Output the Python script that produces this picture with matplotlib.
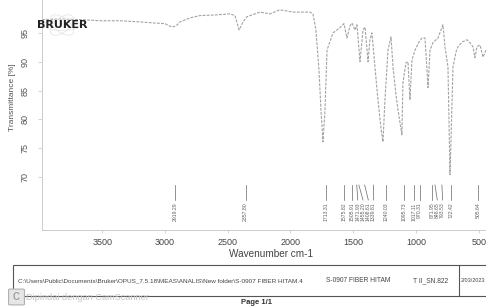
import matplotlib
matplotlib.use('Agg')
import matplotlib.pyplot as plt
from matplotlib.patches import Rectangle, FancyBboxPatch, Ellipse
from matplotlib.lines import Line2D

plt.rcParams['font.family'] = ['Liberation Sans', 'DejaVu Sans']

# ---- data ----
wavenumber = [3980, 3837, 3677, 3518, 3358, 3199, 3080, 3000, 2944, 2912, 2880, 2801,
              2721, 2602, 2482, 2442, 2410, 2378, 2347, 2243, 2163, 2084, 1980, 1845,
              1821, 1797, 1773, 1757, 1741, 1725, 1709, 1661, 1606, 1574, 1550, 1526,
              1510, 1486, 1470, 1446, 1422, 1406, 1382, 1367, 1351, 1327, 1303, 1279,
              1263, 1247, 1223, 1199, 1183, 1159, 1143, 1112, 1104, 1080, 1064, 1048,
              1032, 1008, 976, 952, 928, 904, 888, 865, 825, 785, 769, 745, 729, 721,
              705, 681, 665, 633, 594, 570, 546, 530, 514, 490, 466, 442]
transmittance = [97.3, 97.4, 97.3, 97.1, 97.1, 96.9, 96.7, 96.6, 96.0, 96.2, 96.9, 97.6,
                 98.0, 98.1, 98.3, 98.0, 95.5, 96.9, 97.8, 98.6, 98.3, 99.0, 98.6, 98.6,
                 98.3, 95.5, 88.6, 81.6, 76.1, 81.6, 92.0, 95.0, 95.9, 96.6, 94.1, 96.2,
                 96.7, 95.5, 96.4, 90.0, 95.5, 96.0, 90.0, 93.8, 95.0, 89.1, 83.4, 78.5,
                 76.1, 83.4, 92.0, 94.3, 89.1, 84.2, 81.6, 77.3, 86.3, 89.8, 90.0, 83.4,
                 90.3, 92.0, 93.4, 94.1, 94.1, 85.5, 92.0, 93.3, 94.1, 96.4, 92.6, 89.1,
                 70.4, 76.4, 89.1, 91.7, 92.6, 93.4, 93.8, 93.3, 92.6, 90.7, 92.6, 92.9,
                 90.8, 92.0]
peak_positions = [2919.29, 2357.80, 1713.31, 1575.82, 1505.91, 1471.93, 1455.20, 1408.61,
                  1339.81, 1240.03, 1095.73, 1017.11, 970.31, 871.95, 848.65, 793.53,
                  722.42, 505.64]
x_ticks = [3500, 3000, 2500, 2000, 1500, 1000, 500]
y_ticks = [70, 75, 80, 85, 90, 95]

W, H = 486, 307
fig = plt.figure(figsize=(W / 100, H / 100), dpi=100)
ax = fig.add_axes([42 / W, (H - 230) / H, 1 - 42 / W, 230 / H])
ax.patch.set_alpha(0)

ax.plot(wavenumber, transmittance, color='#a2a2a2', lw=0.8, ls=(0, (2.5, 1.2)))
ax.set_xlim(3980, 442)
ax.set_ylim(60.8, 100.7)

for s in ['top', 'right']:
    ax.spines[s].set_visible(False)
for s in ['left', 'bottom']:
    ax.spines[s].set_color('#c4c4c4')
    ax.spines[s].set_linewidth(0.6)
ax.set_xticks(x_ticks)
ax.set_yticks(y_ticks)
ax.tick_params(axis='x', length=2.5, width=0.5, pad=3, labelsize=6.5,
               colors='#c4c4c4', labelcolor='#444444')
ax.tick_params(axis='y', length=3, width=0.5, pad=6, labelsize=6.5,
               colors='#c4c4c4', labelcolor='#555555', labelrotation=90)
for lab in ax.get_yticklabels():
    lab.set_va('center')

# peak labels (spread like OPUS does)
prev = None
for p in sorted(peak_positions, reverse=True):
    lp = p if prev is None else min(p, prev - 42)
    prev = lp
    ax.plot([p, lp], [68.6, 66.0], color='#666666', lw=0.5, clip_on=False)
    ax.text(lp, 65.6, f'{p:.2f}', rotation=90, ha='center', va='top',
            fontsize=3.7, color='#606060', clip_on=False)

# axis labels
fig.text(13 / W, 1 - 97 / H, 'Transmittance [%]', rotation=90, ha='center',
         va='center', fontsize=6, color='#555555')
fig.text(271 / W, 1 - 254 / H, 'Wavenumber cm-1', ha='center', va='center',
         fontsize=7.2, color='#444444')

# logo
for ang in (0, 60, 120):
    fig.add_artist(Ellipse((62 / W, 1 - 25 / H), 36 / W, 11 / H, angle=ang,
                           transform=fig.transFigure, fill=False, ec='#e2e2e2', lw=0.5))
fig.text(37 / W, 1 - 25 / H, 'BRUKER', fontsize=8, fontweight='bold',
         family='DejaVu Sans', ha='left', va='center', color='#222222')

# footer table
fig.add_artist(Rectangle((13 / W, 11 / H), 1.0, 31 / H, transform=fig.transFigure,
                         fill=False, ec='#555555', lw=0.8))
fig.add_artist(Line2D([459 / W, 459 / W], [11 / H, 42 / H], transform=fig.transFigure,
                      color='#555555', lw=0.8))
ty = 26 / H
fig.text(18 / W, ty, r'C:\Users\Public\Documents\Bruker\OPUS_7.5.18\MEAS\ANALIS\New folder\S-0907 FIBER HITAM.4',
         fontsize=4.6, color='#444444', va='center', ha='left')
fig.text(326 / W, ty, 'S-0907 FIBER HITAM', fontsize=4.8, color='#444444', va='center', ha='left')
fig.text(413 / W, ty, 'T II_SN.822', fontsize=4.8, color='#444444', va='center', ha='left')
fig.text(460.5 / W, ty, '2/03/2023', fontsize=4, color='#444444', va='center', ha='left')
fig.text(241 / W, 1 - 303 / H, 'Page 1/1', fontsize=5.5, fontweight='bold',
         color='#333333', va='center', ha='left')

# scanner watermark
fig.add_artist(FancyBboxPatch((10 / W, 3 / H), 13 / W, 14 / H, boxstyle='round,pad=0.003',
                              transform=fig.transFigure, fc='#e6e6e6', ec='#b0b0b0', lw=0.8))
fig.text(16.5 / W, 10 / H, 'C', fontsize=7, color='#a0a0a0', ha='center', va='center',
         fontweight='bold')
fig.text(26 / W, 1 - 297 / H, 'Dipindai dengan CamScanner', fontsize=6.6, color='#c4c4c4',
         va='center', ha='left')

fig.savefig('out.png', dpi=100)
